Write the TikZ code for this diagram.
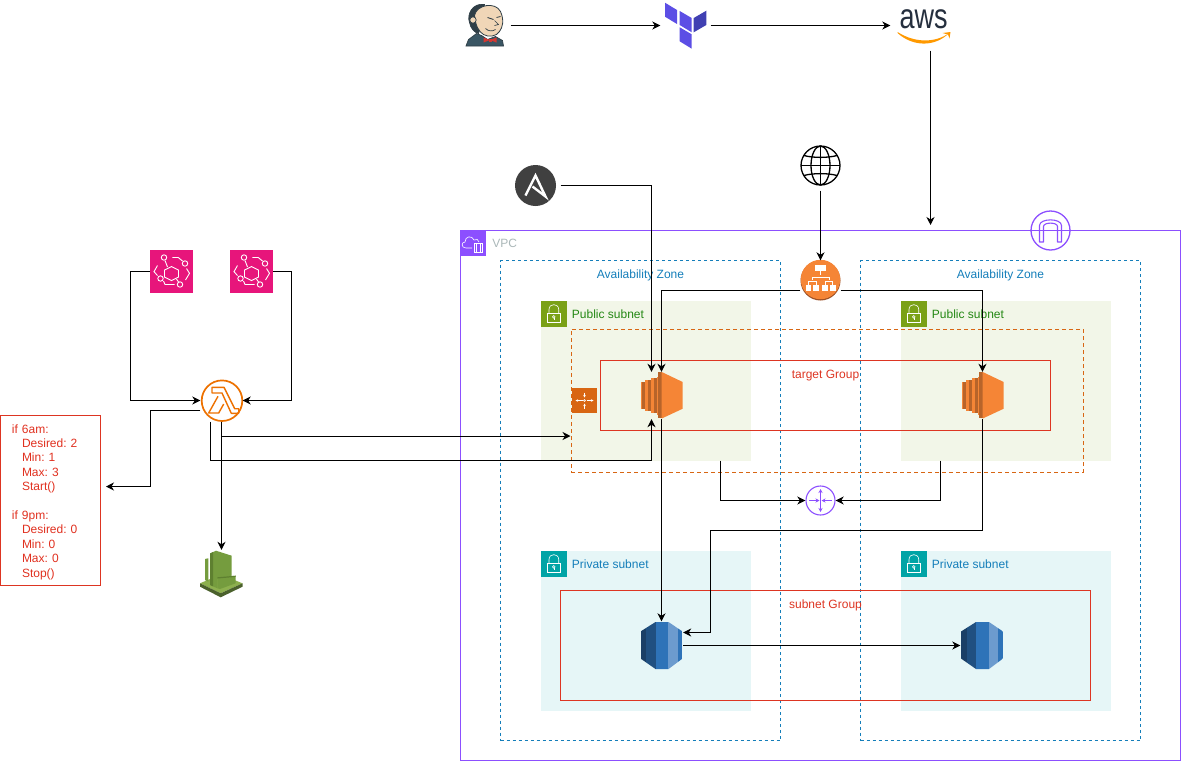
\documentclass[tikz,border=0pt]{standalone}
\usepackage{fontspec}
\setmainfont{Liberation Sans}
\usepackage{xcolor}
\usetikzlibrary{arrows.meta,positioning}

\definecolor{vpcpurple}{HTML}{8C4FFF}
\definecolor{vpcgrey}{HTML}{AAB7B8}
\definecolor{azblue}{HTML}{147EBA}
\definecolor{pubfill}{HTML}{F2F6E8}
\definecolor{pubicon}{HTML}{7AA116}
\definecolor{pubtext}{HTML}{248814}
\definecolor{prvfill}{HTML}{E6F6F7}
\definecolor{prvicon}{HTML}{00A4A6}
\definecolor{redline}{HTML}{DD3522}
\definecolor{asgfill}{HTML}{D86613}
\definecolor{awsorange}{HTML}{F58536}
\definecolor{awsdark}{HTML}{9D5025}
\definecolor{ec2stripe}{HTML}{B8642A}
\definecolor{busred}{HTML}{E7157B}
\definecolor{lamorange}{HTML}{ED7100}
\definecolor{cwgreen}{HTML}{759C3E}
\definecolor{cwmid}{HTML}{5E8030}
\definecolor{cwlight}{HTML}{8DB04E}
\definecolor{cwdark}{HTML}{4B612C}
\definecolor{tfpurple}{HTML}{5C4EE5}
\definecolor{tfdark}{HTML}{4040B2}
\definecolor{awsink}{HTML}{252F3E}
\definecolor{amazonorange}{HTML}{FF9900}
\definecolor{ansiblegrey}{HTML}{404040}
\definecolor{rdsnavy}{HTML}{1A3F66}
\definecolor{rdsdeep}{HTML}{205081}
\definecolor{rdsblue}{HTML}{2E73B8}
\definecolor{rdspale}{HTML}{6C9BCE}
\definecolor{jenkinsskin}{HTML}{F0D6B7}
\definecolor{jenkinsink}{HTML}{2F3E46}
\definecolor{jenkinscoat}{HTML}{3A5664}
\definecolor{jenkinsred}{HTML}{D33833}

\tikzset{
    label12/.style={inner sep=0pt, font=\fontsize{12}{14.4}\selectfont},
    sublabel/.style={label12, yshift=-.8pt},
    icon/.style={rectangle, inner sep=0pt, minimum size=#1},
    icon/.default=50pt,
    vpcbox/.style={rectangle, draw=vpcpurple, line width=1pt, inner sep=0pt, minimum width=720pt, minimum height=530pt},
    azbox/.style={rectangle, draw=azblue, line width=1pt, dash pattern=on 3pt off 3pt, inner sep=0pt, minimum width=280pt, minimum height=480pt},
    pubbox/.style={rectangle, fill=pubfill, inner sep=0pt, minimum width=210pt, minimum height=160pt},
    prvbox/.style={rectangle, fill=prvfill, inner sep=0pt, minimum width=210pt, minimum height=160pt},
    redbox/.style={rectangle, draw=redline, line width=1pt, inner sep=0pt},
    arrow/.style={-{Stealth[length=8pt,width=8pt,inset=2.5pt]}, line width=1pt},
    wline/.style={draw=white, line width=.6pt},
    bline/.style={draw=white, line width=.9pt},
    lockicon/.pic={
        \fill[#1] (-13,-13) rectangle (13,13);
        \draw[wline] (-6.3,-.3) rectangle (7,8.7);
        \draw[wline] (-4.5,-.3) -- (-4.5,-4) .. controls (-4.5,-10.5) and (5.2,-10.5) .. (5.2,-4) -- (5.2,-.3);
        \draw[wline] (.3,3.4) circle[radius=1.3pt];
        \draw[wline] (.3,4.7) -- (.3,6.8);
    },
    vpcicon/.pic={
        \fill[vpcpurple] (-13,-13) rectangle (13,13);
        \draw[wline] (-1,5) -- (-7,5) .. controls (-12,5) and (-12,-1) .. (-8,-1) .. controls (-8,-7) and (-1,-8) .. (1,-3) .. controls (3,-5) and (6,-3) .. (6,-1);
        \draw[wline] (1,0) rectangle (9,9);
        \draw[wline] (3,0) -- (3,9);
        \draw[wline] (7,0) -- (7,9);
    },
    jenkinsicon/.pic={
        \draw[fill=jenkinscoat, draw=jenkinsink, line width=.7pt] (-19.5,20.5) -- (-17,14) -- (-9,8) -- (-4,10) -- (2,14) -- (10,11) -- (17,15) -- (18,20.5) -- cycle;
        \draw[fill=jenkinsink, draw=jenkinsink, line width=.7pt] (-1,-21) .. controls (-13,-23) and (-19,-11) .. (-16,-3) .. controls (-15,3) and (-11,7) .. (-7,8) -- (-3,-5) -- cycle;
        \draw[fill=jenkinsskin, draw=jenkinsink, line width=.8pt] (-11,-10) .. controls (-9,-21) and (10,-24) .. (15,-14) .. controls (19,-5) and (17,2) .. (14,6) .. controls (11,11) and (3,12) .. (-2,9) .. controls (-7,6) and (-10,0) .. (-11,-10);
        \draw[fill=jenkinsskin, draw=jenkinsink, line width=.7pt] (-12.5,-5.5) circle[radius=3.2pt];
        \draw[jenkinsink, line width=.8pt] (2,-8) -- (8,-6);
        \draw[jenkinsink, line width=.8pt] (11,-8) -- (15,-9);
        \draw[jenkinsink, line width=.7pt] (9,-5) -- (13,-1) -- (9,0);
        \draw[jenkinsink, line width=.7pt] (0,3) .. controls (3,6) and (7,6) .. (10,4);
        \fill[jenkinsred] (-2,12) -- (4.5,14.5) -- (-2,17) -- cycle;
        \fill[jenkinsred] (11,12) -- (4.5,14.5) -- (11,17) -- cycle;
        \fill[jenkinsred] (3,13) rectangle (6,16);
    },
    terraformicon/.pic={
        \fill[tfpurple] (-23.5,-22.8) -- (-11.5,-15.5) -- (-11.5,-1.5) -- (-23.5,-8.8) -- cycle;
        \fill[tfpurple] (-8.8,-14.5) -- (3.2,-7.5) -- (3.2,6.8) -- (-8.8,-.5) -- cycle;
        \fill[tfdark] (17.8,-14.8) -- (5.2,-7.5) -- (5.2,6.8) -- (17.8,-.5) -- cycle;
        \fill[tfpurple] (-8.8,1.8) -- (3.2,8.8) -- (3.2,23.2) -- (-8.8,15.8) -- cycle;
    },
    awsicon/.pic={
        \node[inner sep=0pt, text=awsink] (awstext) at (0,-6) {\scalebox{1}[1.3]{\fontsize{27}{27}\selectfont aws}};
        \fill[amazonorange] (-26,6.5) .. controls (-8,18) and (12,17) .. (25,8) .. controls (12,21) and (-10,22) .. (-26,7.5) -- cycle;
        \fill[amazonorange] (19,7.5) -- (27,6.5) -- (26,13) -- (24.5,9) -- cycle;
    },
    ansibleicon/.pic={
        \fill[ansiblegrey] (0,0) circle[radius=20.5pt];
        \draw[white, line width=2.4pt, line join=miter] (-10,10) -- (0,-10) -- (10,11) -- (-3,1);
    },
    globeicon/.pic={
        \draw[line width=1.3pt] (0,0) circle[radius=19.5pt];
        \draw[line width=1.3pt] (0,0) ellipse[x radius=9.5pt, y radius=19.5pt];
        \draw[line width=1.6pt] (0,-19.5) -- (0,19.5);
        \draw[line width=1.6pt] (-19.5,0) -- (19.5,0);
        \draw[line width=1.3pt] (-16.5,-10) .. controls (-8,-7.5) and (8,-7.5) .. (16.5,-10);
        \draw[line width=1.3pt] (-16.5,10) .. controls (-8,7.5) and (8,7.5) .. (16.5,10);
    },
    busicon/.pic={
        \fill[busred] (-21.3,-21.3) rectangle (21.3,21.3);
        \draw[bline] (0,-5) -- (7,-1.5) -- (7,5.5) -- (0,9) -- (-7,5.5) -- (-7,-1.5) -- cycle;
        \draw[bline] (-7.5,-14) circle[radius=2.7pt];
        \draw[bline] (13.5,-8) circle[radius=2.7pt];
        \draw[bline] (-11,7) circle[radius=2.7pt];
        \draw[bline] (8.5,13) circle[radius=2.7pt];
        \draw[bline] (-6.5,-11) -- (-4,-4.5);
        \draw[bline] (5,7.5) -- (7,10.5);
        \draw[bline] (.8,-14) -- (6.8,-14) -- (11,-10.5);
        \draw[bline] (15,-3) -- (18,1.8) -- (14,8.5);
        \draw[bline] (-14,-6) -- (-17.5,.2) -- (-14,4);
        \draw[bline] (-8,9.5) -- (-6.5,13) -- (3,13);
    },
    lambdaicon/.pic={
        \draw[lamorange, line width=1.7pt, fill=white] (.5,.2) circle[radius=20.3pt];
        \draw[lamorange, line width=1.4pt, line join=round] (-9.5,-13.2) -- (2.5,-13.2) -- (13.2,8.2) -- (17.2,8.2) -- (17.2,12.8) -- (9.8,12.8) -- (.5,-7.5) -- (-9.5,-7.5) -- cycle;
        \draw[lamorange, line width=1.4pt, line join=round] (-3.5,-4.2) -- (-12.8,12.5) -- (-2.8,12.5) -- (2.2,3.5);
    },
    watchicon/.pic={
        \fill[cwlight] (-21.5,9.8) -- (-.8,1) -- (21,9.8) -- (-.8,19.8) -- cycle;
        \fill[cwdark] (-21.5,9.8) -- (-.8,19.8) -- (21,9.8) -- (21,13.2) -- (-.8,23.8) -- (-21.5,13.2) -- cycle;
        \fill[cwgreen] (-16.5,-14.5) -- (-13.2,-15.2) -- (-13.2,8.2) -- (-16.5,6.5) -- cycle;
        \fill[cwgreen] (-11.5,-20) -- (-5.5,-22.8) -- (10.2,-17.8) -- (10.2,3.2) -- (-4.2,4.8) -- (-4.2,14.8) -- (-11.5,11.5) -- cycle;
        \fill[cwmid] (-11.5,-20) -- (-8.5,-21.4) -- (-8.5,12.8) -- (-11.5,11.5) -- cycle;
        \fill[cwgreen] (-4.2,3.8) -- (14.2,2.2) -- (14.2,9.8) -- (-1.5,15.5) -- (-4.2,14.8) -- cycle;
        \fill[cwmid] (-4.2,3.8) -- (14.2,2.2) -- (14.2,3.4) -- (-4.2,5) -- cycle;
    },
    asgicon/.pic={
        \fill[asgfill] (-12.5,-12.5) rectangle (12.5,12.5);
        \draw[white, line width=.5pt, -{Stealth[length=2.5pt,width=2.5pt]}] (-2,0) -- (-9,0);
        \draw[white, line width=.5pt, -{Stealth[length=2.5pt,width=2.5pt]}] (2,0) -- (9,0);
        \draw[white, line width=.5pt, -{Stealth[length=2.5pt,width=2.5pt]}] (0,-8) -- (0,-3);
        \draw[white, line width=.5pt, -{Stealth[length=2.5pt,width=2.5pt]}] (0,8) -- (0,3);
        \draw[white, line width=.5pt] (0,0) circle[radius=1pt];
    },
    ec2icon/.pic={
        \fill[awsorange] (-20.8,-13.5) rectangle (-19.2,13.2);
        \fill[ec2stripe] (-19.2,-13.5) rectangle (-16.8,13.2);
        \fill[awsorange] (-16.8,-15.8) rectangle (-13.2,15.8);
        \fill[ec2stripe] (-13.2,-15.8) rectangle (-10.8,15.8);
        \fill[awsorange] (-10.8,-17.5) rectangle (-7.2,17.5);
        \fill[ec2stripe] (-7.2,-17.5) rectangle (-4.8,17.5);
        \fill[awsorange] (-4.8,-19) rectangle (-3.2,19);
        \fill[ec2stripe] (-3.2,-23.5) rectangle (.2,22.5);
        \fill[awsorange] (.2,-23.5) -- (21.2,-13.5) -- (21.2,13.2) -- (.2,23) -- cycle;
    },
    rdsicon/.pic={
        \begin{scope}
            \clip (-21,-14) -- (-6,-23.5) -- (7,-23.5) -- (21,-14) -- (21,13) -- (7,23.5) -- (-6,23.5) -- (-21,13) -- cycle;
            \fill[rdsnavy] (-21,-24) rectangle (-15.5,24);
            \fill[rdsdeep] (-15.5,-24) rectangle (-6,24);
            \fill[rdsblue] (-6,-24) rectangle (6.5,24);
            \fill[rdspale] (6.5,-24) rectangle (16,24);
            \fill[rdsblue] (16,-24) rectangle (21,24);
        \end{scope}
    },
    albicon/.pic={
        \fill[awsdark] (0,0) circle[radius=20pt];
        \fill[awsorange] (0,-1) circle[radius=19.7pt];
        \fill[white] (-5.5,-16) rectangle (5.5,-9.3);
        \fill[white] (-15,4.5) rectangle (-9.3,10);
        \fill[white] (-7.7,4.5) rectangle (-1.7,10);
        \fill[white] (1.7,4.5) rectangle (7.7,10);
        \fill[white] (9,4.5) rectangle (15,10);
        \draw[white, line width=.6pt] (0,-9.3) -- (0,-5.5);
        \draw[white, line width=.6pt] (-8.5,-1) -- (-8.5,-3.5) -- (8.5,-3.5) -- (8.5,-1);
        \draw[white, line width=.6pt] (-12,4.5) -- (-12,1) -- (-4.7,1) -- (-4.7,4.5);
        \draw[white, line width=.6pt] (4.7,4.5) -- (4.7,1) -- (12,1) -- (12,4.5);
    },
    gatewayicon/.pic={
        \draw[vpcpurple, line width=1.3pt] (0,0) circle[radius=19.5pt];
        \draw[vpcpurple, line width=1.1pt, line join=round] (-11,11.5) -- (-11,-5) .. controls (-11,-12.5) and (11,-12.5) .. (11,-5) -- (11,11.5) -- (7,11.5) -- (7,-4) .. controls (7,-8.5) and (-7,-8.5) .. (-7,-4) -- (-7,11.5) -- cycle;
    },
    routericon/.pic={
        \draw[vpcpurple, line width=1.1pt, fill=white] (0,0) circle[radius=14.5pt];
        \draw[vpcpurple, line width=1pt, {Stealth[length=4pt,width=4pt]}-{Stealth[length=4pt,width=4pt]}] (0,-11.5) -- (0,11.5);
        \draw[vpcpurple, line width=1pt, -{Stealth[length=4pt,width=4pt]}] (-11.5,0) -- (-1,0);
        \draw[vpcpurple, line width=1pt, -{Stealth[length=4pt,width=4pt]}] (11.5,0) -- (1,0);
    }
}
\frenchspacing

\begin{document}
\begin{tikzpicture}[x=1pt, y=-1pt]
    \useasboundingbox (0,0) rectangle (1181,761);

    % vpc and zones
    \node[vpcbox] (vpc) at (820.5,495.5) {};
    \node[azbox] (az1) at (640.5,500.5) {};
    \node[azbox] (az2) at (1000.5,500.5) {};
    \node[pubbox] (pub1) at (645.5,380.5) {};
    \node[pubbox] (pub2) at (1005.5,380.5) {};
    \node[prvbox] (prv1) at (645.5,630.5) {};
    \node[prvbox] (prv2) at (1005.5,630.5) {};

    \node[rectangle, draw=asgfill, line width=1pt, dash pattern=on 4pt off 3pt, inner sep=0pt, minimum width=512pt, minimum height=143pt] (asggroup) at (827,400.5) {};
    \node[redbox, minimum width=450pt, minimum height=70pt] (tgroup) at (825.5,395.5) {};
    \node[redbox, minimum width=530pt, minimum height=110pt] (sgroup) at (825.5,645.5) {};

    % titles
    \node[icon=26pt] (vpcmark) at (473,243) {};
    \pic at (vpcmark) {vpcicon};
    \node[sublabel, text=vpcgrey, right=6pt of vpcmark] (vpclabel) {VPC};
    \node[label12, text=azblue, below=9.5pt of az1.north] (az1label) {Availability Zone};
    \node[label12, text=azblue, below=9.5pt of az2.north] (az2label) {Availability Zone};

    \node[icon=26pt] (lockp1) at (553.5,313.5) {};
    \pic at (lockp1) {lockicon=pubicon};
    \node[sublabel, text=pubtext, right=5pt of lockp1] (pub1label) {Public subnet};
    \node[icon=26pt] (lockp2) at (913.5,313.5) {};
    \pic at (lockp2) {lockicon=pubicon};
    \node[sublabel, text=pubtext, right=5pt of lockp2] (pub2label) {Public subnet};
    \node[icon=26pt] (lockr1) at (553.5,563.5) {};
    \pic at (lockr1) {lockicon=prvicon};
    \node[sublabel, text=azblue, right=5pt of lockr1] (prv1label) {Private subnet};
    \node[icon=26pt] (lockr2) at (913.5,563.5) {};
    \pic at (lockr2) {lockicon=prvicon};
    \node[sublabel, text=azblue, right=5pt of lockr2] (prv2label) {Private subnet};

    \node[label12, text=redline, below=9.5pt of tgroup.north] (tlabel) {target Group};
    \node[label12, text=redline, below=9.5pt of sgroup.north] (slabel) {subnet Group};

    % icons
    \node[icon] (jenkins) at (485.5,25.5) {};
    \pic at (jenkins) {jenkinsicon};
    \node[icon] (terraform) at (685.5,25.5) {};
    \pic at (688.5,25.5) {terraformicon};
    \node[icon, minimum width=80pt] (aws) at (930.5,25.5) {};
    \pic at (923.5,25.5) {awsicon};
    \node[icon] (ansible) at (535.5,185.5) {};
    \pic at (ansible) {ansibleicon};
    \node[icon] (globe) at (820.5,165.5) {};
    \pic at (globe) {globeicon};
    \node[icon=40pt] (alb) at (820.5,280.5) {};
    \pic at (alb) {albicon};
    \node[icon=40pt] (gateway) at (1050.5,230.5) {};
    \pic at (gateway) {gatewayicon};
    \node[icon=30pt] (router) at (820.5,500.5) {};
    \pic at (router) {routericon};
    \node[icon=25pt] (asg) at (584.5,400.5) {};
    \pic at (asg) {asgicon};

    \node[icon=47pt, minimum width=43pt] (ec2a) at (661.5,395.5) {};
    \pic at (ec2a) {ec2icon};
    \node[icon=47pt, minimum width=43pt] (ec2b) at (982.5,395.5) {};
    \pic at (ec2b) {ec2icon};
    \node[icon=48pt, minimum width=43pt] (rdsa) at (661.5,645.5) {};
    \pic at (rdsa) {rdsicon};
    \node[icon=48pt, minimum width=43pt] (rdsb) at (982,645.5) {};
    \pic at (rdsb) {rdsicon};

    \node[icon=42.6pt] (bus1) at (171.5,271.5) {};
    \pic at (bus1) {busicon};
    \node[icon=42.6pt] (bus2) at (251.5,271.5) {};
    \pic at (bus2) {busicon};
    \node[icon=42pt] (lambda) at (221.5,400.5) {};
    \pic at (lambda) {lambdaicon};
    \node[icon=47pt] (watch) at (221.5,573.5) {};
    \pic at (watch) {watchicon};

    \node[redbox, minimum width=100pt, minimum height=170pt, text width=77pt, align=left, text=redline!90!red, font=\fontsize{12}{14.4}\selectfont] (rules) at (50.5,500.5) {\mbox{}\\[-2.8pt]if 6am:\\
        \hspace*{10pt}Desired: 2\\
        \hspace*{10pt}Min: 1\\
        \hspace*{10pt}Max: 3\\
        \hspace*{10pt}Start()\\
        \mbox{}\\
        if 9pm:\\
        \hspace*{10pt}Desired: 0\\
        \hspace*{10pt}Min: 0\\
        \hspace*{10pt}Max: 0\\
        \hspace*{10pt}Stop()};

    % connectors
    \coordinate (vpctop) at (930.5,225);
    \coordinate (asgin) at ([yshift=-35.5pt]asggroup.west);

    \draw[arrow] (jenkins) -- (terraform);
    \draw[arrow] (terraform) -- (aws);
    \draw[arrow] (aws.south) -- (vpctop);
    \draw[arrow] (ansible) -| ([xshift=-10pt]ec2a.north);
    \draw[arrow] (globe) -- (alb);
    \draw[arrow] ([yshift=-10pt]alb.west) -| (ec2a.north);
    \draw[arrow] ([yshift=-10pt]alb.east) -| (ec2b.north);

    \draw[arrow] (bus1.west) -- ++(-20,0) |- (lambda.west);
    \draw[arrow] (bus2.east) -- ++(18,0) |- (lambda.east);
    \draw[arrow] ([yshift=-10pt]lambda.west) -- ++(-50,0) |- ([xshift=5pt,yshift=14pt]rules.east);
    \draw[arrow] (lambda.south) -- (watch.north);
    \draw[arrow] (lambda.south |- asgin) -- (asgin);
    \draw[arrow] ([xshift=-11pt]lambda.south) -- ++(0,39) -| ([xshift=-10pt]ec2a.south);

    \draw[arrow] (ec2a.south) -- (rdsa.north);
    \draw[arrow] (ec2b.south) |- ++(-272,111) |- ([yshift=13pt]rdsa.east);
    \draw[arrow] (rdsa) -- (rdsb);
    \draw[arrow] ([xshift=75pt]pub1.south) |- (router.west);
    \draw[arrow] ([xshift=-65pt]pub2.south) |- (router.east);

\end{tikzpicture}
\end{document}
